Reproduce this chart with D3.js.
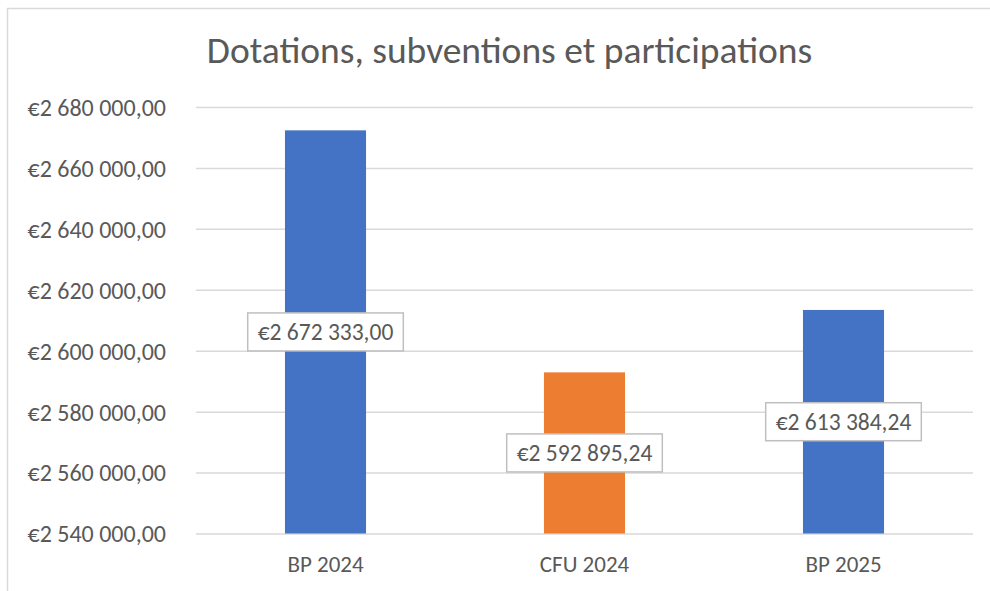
<!DOCTYPE html>
<html>
<head>
<meta charset="utf-8">
<script src="https://cdn.jsdelivr.net/npm/d3@7"></script>
<style>
  body { margin: 0; background: #fff; }
  text { font-family: Carlito, Calibri, "Open Sans", sans-serif; }
</style>
</head>
<body>
<svg id="chart" width="990" height="591"></svg>
<script>
// data
var categories = ['BP 2024', 'CFU 2024', 'BP 2025'];
var values = [2672333.00, 2592895.24, 2613384.24];
var barColors = ['#4472C4', '#ED7D31', '#4472C4'];
var yTicks = [2540000, 2560000, 2580000, 2600000, 2620000, 2640000, 2660000, 2680000];
var title = 'Dotations, subventions et participations';

var width = 990;
var height = 591;
var plotLeft = 196, plotRight = 973, plotTop = 107, plotBottom = 533.5;

// french style money: €2 672 333,00
function fmt(v){
	var parts = v.toFixed(2).split('.');
	var intPart = parts[0].replace(/\B(?=(\d{3})+(?!\d))/g, ' ');
	return '€' + intPart + ',' + parts[1];
}

var svg = d3.select('#chart');

// chart border (right side is cut off in the picture)
svg.append('rect')
	.attr('x', 7.5).attr('y', 8.5)
	.attr('width', 1000).attr('height', 600)
	.attr('fill', 'none')
	.attr('stroke', '#d9d9d9')
	.attr('stroke-width', 1.5);

var x = d3.scaleBand()
	.domain(categories)
	.range([plotLeft, plotRight])
	.paddingInner(0.687)
	.paddingOuter(0.3435);

var y = d3.scaleLinear()
	.domain([yTicks[0], yTicks[yTicks.length - 1]])
	.range([plotBottom, plotTop]);

// title
svg.append('text')
	.attr('x', 509.5)
	.attr('y', 63)
	.attr('text-anchor', 'middle')
	.style('font-size', '37.5px')
	.attr('fill', '#595959')
	.text(title);

// grid
var yAxis = svg.append('g')
	.attr('transform', 'translate(' + plotLeft + ',0)')
	.call(d3.axisLeft(y).tickValues(yTicks).tickSize(-(plotRight - plotLeft)).tickPadding(30).tickFormat(fmt));
yAxis.select('.domain').remove();
yAxis.selectAll('.tick line').attr('stroke', '#d9d9d9').attr('stroke-width', 1.5);
yAxis.selectAll('.tick text')
	.attr('fill', '#595959')
	.style('font-size', '24px')
	.attr('dy', '0.35em');

// category labels
var xAxis = svg.append('g')
	.attr('transform', 'translate(0,' + plotBottom + ')')
	.call(d3.axisBottom(x).tickSize(0).tickPadding(0));
xAxis.select('.domain').remove();
xAxis.selectAll('.tick text')
	.attr('fill', '#595959')
	.style('font-size', '23px')
	.attr('y', 38)
	.attr('dy', 0);

// bars
svg.selectAll('.bar')
	.data(values)
	.enter()
	.append('rect')
	.attr('class', 'bar')
	.attr('x', function(d, i){ return x(categories[i]) })
	.attr('width', x.bandwidth())
	.attr('y', function(d){ return y(d) })
	.attr('height', function(d){ return plotBottom - y(d) })
	.attr('fill', function(d, i){ return barColors[i] });

// data labels, centred in the bar
var labels = svg.selectAll('.lbl')
	.data(values)
	.enter()
	.append('g')
	.attr('class', 'lbl')
	.attr('transform', function(d, i){
		return 'translate(' + (x(categories[i]) + x.bandwidth() / 2) + ',' + ((y(d) + plotBottom) / 2) + ')';
	});

labels.append('text')
	.attr('text-anchor', 'middle')
	.attr('dy', '0.35em')
	.attr('fill', '#595959')
	.style('font-size', '23.5px')
	.text(fmt);

labels.insert('rect', 'text')
	.each(function(){
		var w = this.parentNode.querySelector('text').getComputedTextLength() + 20;
		d3.select(this)
			.attr('x', -w / 2).attr('y', -19)
			.attr('width', w).attr('height', 38);
	})
	.attr('fill', '#fff')
	.attr('stroke', '#bfbfbf')
	.attr('stroke-width', 1.5);
</script>
</body>
</html>
